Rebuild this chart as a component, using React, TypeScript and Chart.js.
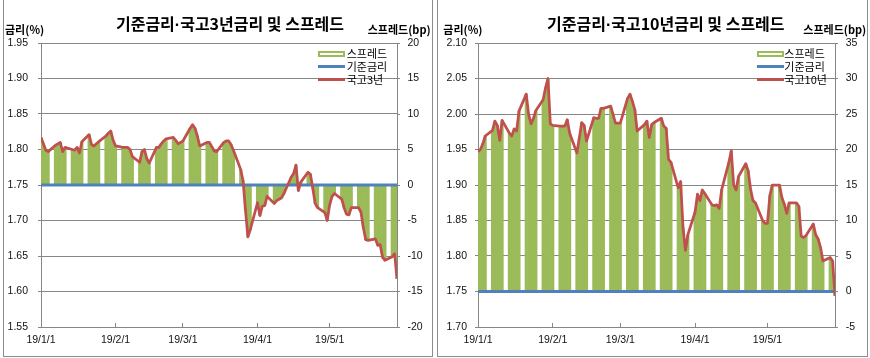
import React, { useEffect, useRef } from 'react';
import { Chart, registerables } from 'chart.js';

Chart.register(...registerables);

// ---------- data ----------
const FIRST_DATE = '2019-01-01';
const LAST_DATE = '2019-05-29';
const BASE_RATE = 1.75; // 기준금리 (%)

// 국고3년 금리 (%), one value per weekday from 2019-01-01 to 2019-05-29
const ktb3y: number[] = [
  1.817, 1.808, 1.799, 1.797,
  1.806, 1.808, 1.810, 1.797, 1.803,
  1.800, 1.799, 1.803, 1.795, 1.811,
  1.821, 1.807, 1.805, 1.808, 1.811,
  1.819, 1.823, 1.826, 1.813, 1.805,
  1.803, 1.803, 1.803, 1.800, 1.790,
  1.782, 1.797, 1.800, 1.787, 1.781,
  1.803, 1.803, 1.808, 1.812, 1.815,
  1.817, 1.813, 1.808, 1.810, 1.812,
  1.830, 1.835, 1.830, 1.819, 1.805,
  1.810, 1.810, 1.804, 1.798, 1.797,
  1.810, 1.812, 1.812, 1.807, 1.799,
  1.772, 1.756, 1.715, 1.677, 1.687,
  1.725, 1.707, 1.720, 1.721, 1.734,
  1.724, 1.728, 1.730, 1.732, 1.738,
  1.761, 1.766, 1.778, 1.742, 1.754,
  1.768, 1.765, 1.745, 1.724, 1.718,
  1.711, 1.700, 1.722, 1.734, 1.738,
  1.730, 1.718, 1.709, 1.708, 1.718,
  1.718, 1.712, 1.690, 1.673, 1.672,
  1.674, 1.665, 1.666, 1.648, 1.644,
  1.649, 1.653, 1.618,
];

// 국고10년 금리 (%), same dates
const ktb10y: number[] = [
  1.947, 1.950, 1.958, 1.969,
  1.977, 1.990, 1.984, 1.963, 1.991,
  1.973, 1.969, 1.979, 1.976, 2.004,
  2.028, 1.999, 1.986, 1.994, 2.005,
  2.020, 2.037, 2.050, 1.986, 1.984,
  1.983, 1.983, 1.983, 1.992, 1.973,
  1.945, 1.966, 1.988, 1.984, 1.962,
  1.995, 1.994, 1.994, 2.008, 2.008,
  2.011, 1.999, 1.987, 1.987, 1.987,
  2.022, 2.028, 2.018, 2.006, 1.976,
  1.985, 1.990, 1.967, 1.985, 1.988,
  1.994, 1.983, 1.980, 1.936, 1.932,
  1.896, 1.905, 1.840, 1.808, 1.830,
  1.862, 1.887, 1.878, 1.893, 1.888,
  1.872, 1.871, 1.872, 1.867, 1.893,
  1.932, 1.948, 1.900, 1.893, 1.912,
  1.930, 1.920, 1.894, 1.878, 1.875,
  1.850, 1.846, 1.846, 1.885, 1.900,
  1.900, 1.882, 1.873, 1.860, 1.875,
  1.875, 1.870, 1.828, 1.826, 1.829,
  1.845, 1.830, 1.824, 1.812, 1.793,
  1.798, 1.793, 1.744,
];

const monthTickDates = ['2019-01-01', '2019-02-01', '2019-03-01', '2019-04-01', '2019-05-01'];
const monthTickLabels = ['19/1/1', '19/2/1', '19/3/1', '19/4/1', '19/5/1'];

const rateTicks3y = [1.55, 1.6, 1.65, 1.7, 1.75, 1.8, 1.85, 1.9, 1.95];
const spreadTicks3y = [-20, -15, -10, -5, 0, 5, 10, 15, 20];
const rateTicks10y = [1.7, 1.75, 1.8, 1.85, 1.9, 1.95, 2.0, 2.05, 2.1];
const spreadTicks10y = [-5, 0, 5, 10, 15, 20, 25, 30, 35];

const TITLE_3Y = ['기준금리', '·', '국고3년금리 및 스프레드'];
const TITLE_10Y = ['기준금리', '·', '국고10년금리 및 스프레드'];
const LEFT_UNIT = '금리(%)';
const RIGHT_UNIT = '스프레드(bp)';
const LEGEND_SPREAD = '스프레드';
const LEGEND_BASE = '기준금리';
const LEGEND_3Y = '국고3년';
const LEGEND_10Y = '국고10년';

// ---------- styles ----------
const GRID = '#868686';
const FRAME = '#8c8c8c';
const GREEN = '#9BBB59';
const BLUE = '#4F81BD';
const RED = '#C0504D';
const KFONT = "'Noto Sans CJK KR', 'Noto Sans', sans-serif";
const NFONT = "'Liberation Sans', Arial, sans-serif";

const DAY_MS = 86400000;
const ORIGIN = Date.UTC(2019, 0, 1);
function dayOffset(iso: string): number {
  const [y, m, d] = iso.split('-').map(Number);
  return Math.round((Date.UTC(y, m - 1, d) - ORIGIN) / DAY_MS);
}
function weekdays(start: string, end: string): number[] {
  const out: number[] = [];
  for (let t = dayOffset(start); t <= dayOffset(end); t++) {
    const wd = new Date(ORIGIN + t * DAY_MS).getUTCDay();
    if (wd !== 0 && wd !== 6) out.push(t);
  }
  return out;
}

type PanelProps = {
  frameLeft: number;
  frameWidth: number;
  leftAxisWidth: number;
  rightAxisWidth: number;
  leftLabelPad: number;
  rightLabelPad: number;
  yields: number[];
  rateTicks: number[];
  spreadTicks: number[];
  lineLabel: string;
};

function Panel(p: PanelProps) {
  const ref = useRef<HTMLCanvasElement | null>(null);
  const cw = p.frameWidth - 2;
  const ch = 356;

  useEffect(() => {
    if (!ref.current) return;
    const days = weekdays(FIRST_DATE, LAST_DATE);
    const lastDay = dayOffset(LAST_DATE);
    const tickDays = monthTickDates.map(dayOffset);
    const spread = p.yields.map((v) => Math.round((v - BASE_RATE) * 1000) / 10);
    const tickFont = { family: NFONT, size: 10.5 };

    const chart = new Chart(ref.current, {
      type: 'bar',
      data: {
        datasets: [
          {
            type: 'line',
            label: p.lineLabel,
            data: days.map((d, i) => ({ x: d, y: p.yields[i] })),
            yAxisID: 'y',
            borderColor: RED,
            backgroundColor: RED,
            borderWidth: 2.75,
            pointRadius: 0,
            tension: 0,
            borderJoinStyle: 'round',
            order: 0,
          } as any,
          {
            type: 'line',
            label: LEGEND_BASE,
            data: days.map((d) => ({ x: d, y: BASE_RATE })),
            yAxisID: 'y',
            borderColor: BLUE,
            backgroundColor: BLUE,
            borderWidth: 3,
            pointRadius: 0,
            order: 1,
          } as any,
          {
            type: 'bar',
            label: LEGEND_SPREAD,
            data: days.map((d, i) => ({ x: d, y: spread[i] })),
            yAxisID: 'y2',
            backgroundColor: GREEN,
            borderWidth: 0,
            barPercentage: 1,
            categoryPercentage: 1,
            order: 2,
          } as any,
        ],
      },
      options: {
        animation: false,
        responsive: false,
        events: [],
        layout: { padding: { top: 43, left: 0, right: 0, bottom: 0 } },
        plugins: { legend: { display: false }, tooltip: { enabled: false }, title: { display: false } },
        scales: {
          x: {
            type: 'linear',
            min: 0,
            max: lastDay,
            offset: false,
            afterBuildTicks: (s: any) => {
              s.ticks = tickDays.map((v) => ({ value: v }));
            },
            afterFit: (s: any) => {
              s.height = 29;
            },
            ticks: {
              autoSkip: false,
              maxRotation: 0,
              padding: 10.7,
              color: '#111',
              font: tickFont,
              callback: (_v: any, i: number) => monthTickLabels[i],
            },
            grid: { offset: false, drawOnChartArea: false, drawTicks: true, tickLength: -4, color: GRID },
            border: { display: true, color: GRID, width: 1 },
          },
          y: {
            position: 'left',
            min: p.rateTicks[0],
            max: p.rateTicks[p.rateTicks.length - 1],
            afterBuildTicks: (s: any) => {
              s.ticks = p.rateTicks.map((v) => ({ value: v }));
            },
            afterFit: (s: any) => {
              s.width = p.leftAxisWidth;
            },
            ticks: {
              padding: p.leftLabelPad,
              color: '#111',
              font: tickFont,
              callback: (v: any) => Number(v).toFixed(2),
            },
            grid: { color: GRID, tickLength: 3, drawTicks: true },
            border: { display: true, color: GRID, width: 1 },
          },
          y2: {
            position: 'right',
            min: p.spreadTicks[0],
            max: p.spreadTicks[p.spreadTicks.length - 1],
            afterBuildTicks: (s: any) => {
              s.ticks = p.spreadTicks.map((v) => ({ value: v }));
            },
            afterFit: (s: any) => {
              s.width = p.rightAxisWidth;
            },
            ticks: {
              padding: p.rightLabelPad,
              color: '#111',
              font: tickFont,
              callback: (v: any) => String(Math.round(Number(v))),
            },
            grid: { drawOnChartArea: false, color: GRID, tickLength: 3, drawTicks: true },
            border: { display: true, color: GRID, width: 1 },
          },
        },
      } as any,
    });
    return () => chart.destroy();
  }, []);

  return (
    <div
      style={{
        position: 'absolute',
        left: p.frameLeft,
        top: -1,
        width: p.frameWidth,
        height: 358,
        boxSizing: 'border-box',
        border: `1px solid ${FRAME}`,
        background: '#fff',
      }}
    >
      <canvas ref={ref} width={cw} height={ch} style={{ display: 'block', width: cw, height: ch }} />
    </div>
  );
}

function Txt(props: { x: number; cy: number; size: number; bold?: boolean; text: React.ReactNode; center?: boolean; w?: number }) {
  const h = Math.round(props.size * 1.4);
  const w = props.w ?? 200;
  return (
    <div
      style={{
        position: 'absolute',
        left: props.center ? props.x - w / 2 : props.x,
        top: props.cy - h / 2,
        width: w,
        height: h,
        lineHeight: `${h}px`,
        fontFamily: KFONT,
        fontSize: props.size,
        fontWeight: props.bold ? 700 : 400,
        color: '#000',
        textAlign: props.center ? 'center' : 'left',
        whiteSpace: 'nowrap',
      }}
    >
      {props.text}
    </div>
  );
}

function Title(props: { parts: string[]; x: number }) {
  return (
    <Txt
      x={props.x}
      cy={22.5}
      size={16}
      bold
      center
      w={340}
      text={
        <>
          {props.parts[0]}
          <span style={{ fontFamily: NFONT }}>{props.parts[1]}</span>
          {props.parts[2]}
        </>
      }
    />
  );
}

function Legend(props: { x: number; textX: number; lineLabel: string }) {
  const rows = [53.5, 66.5, 79.5];
  return (
    <>
      <div
        style={{
          position: 'absolute',
          left: props.x,
          top: rows[0] - 3,
          width: 27,
          height: 6,
          boxSizing: 'border-box',
          border: `2px solid ${GREEN}`,
          background: '#fff',
        }}
      />
      <div style={{ position: 'absolute', left: props.x, top: rows[1] - 1.5, width: 27, height: 3, background: BLUE }} />
      <div style={{ position: 'absolute', left: props.x, top: rows[2] - 1.5, width: 27, height: 3, background: RED }} />
      <Txt x={props.textX} cy={rows[0]} size={11} text={LEGEND_SPREAD} w={60} />
      <Txt x={props.textX} cy={rows[1]} size={11} text={LEGEND_BASE} w={60} />
      <Txt x={props.textX} cy={rows[2]} size={11} text={props.lineLabel} w={60} />
    </>
  );
}

export default function App() {
  return (
    <div style={{ position: 'absolute', left: 0, top: 0, width: 870, height: 358, background: '#fff', overflow: 'hidden' }}>
      <Panel
        frameLeft={3}
        frameWidth={430}
        leftAxisWidth={37}
        rightAxisWidth={35}
        leftLabelPad={10}
        rightLabelPad={7.5}
        yields={ktb3y}
        rateTicks={rateTicks3y}
        spreadTicks={spreadTicks3y}
        lineLabel={LEGEND_3Y}
      />
      <Panel
        frameLeft={437}
        frameWidth={431}
        leftAxisWidth={40}
        rightAxisWidth={32}
        leftLabelPad={8}
        rightLabelPad={7.7}
        yields={ktb10y}
        rateTicks={rateTicks10y}
        spreadTicks={spreadTicks10y}
        lineLabel={LEGEND_10Y}
      />
      <Title x={230} parts={TITLE_3Y} />
      <Title x={665.8} parts={TITLE_10Y} />
      <Txt x={5} cy={29} size={11} bold text={LEFT_UNIT} w={60} />
      <Txt x={367.7} cy={29} size={11} bold text={RIGHT_UNIT} w={80} />
      <Txt x={443.3} cy={29} size={11} bold text={LEFT_UNIT} w={60} />
      <Txt x={803.3} cy={29} size={11} bold text={RIGHT_UNIT} w={80} />
      <Legend x={318.3} textX={346.7} lineLabel={LEGEND_3Y} />
      <Legend x={756.7} textX={784.3} lineLabel={LEGEND_10Y} />
    </div>
  );
}
